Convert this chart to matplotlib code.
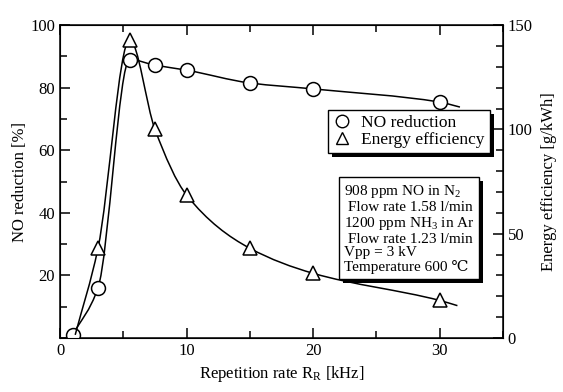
import numpy as np
import matplotlib
matplotlib.use('Agg')
import matplotlib.pyplot as plt
import matplotlib.patheffects as pe
from matplotlib.path import Path
from matplotlib.patches import PathPatch
from matplotlib.lines import Line2D
from matplotlib.ticker import MultipleLocator

plt.rcParams['font.family'] = ['Liberation Serif', 'DejaVu Serif']
plt.rcParams['mathtext.fontset'] = 'custom'
plt.rcParams['mathtext.rm'] = 'Liberation Serif'
plt.rcParams['mathtext.it'] = 'Liberation Serif:italic'

no_x = [1, 3, 5.5, 7.5, 10, 15, 20, 30]
no_y = [1, 16, 89, 87.2, 85.6, 81.5, 79.6, 75.4]
ee_x = [3, 5.5, 7.5, 10, 15, 20, 30]
ee_y = [43, 143, 100, 68.5, 43, 31, 18]

# where the drawn curves start / stop beyond the markers
no_curve_x = [1, 3, 5.5, 7.5, 10, 15, 20, 30, 31.6]
no_curve_y = [1, 16, 89, 87.2, 85.6, 81.5, 79.6, 75.4, 73.8]
ee_curve_x = [1.2, 3, 5.5, 7.5, 10, 15, 20, 30, 31.4]
ee_curve_y = [1.5, 43, 143, 100, 68.5, 43, 31, 18, 15.5]


def smooth_path(xs, ys):
    # monotone cubic (pchip style) drawn as bezier segments
    x = np.asarray(xs, float)
    y = np.asarray(ys, float)
    h = np.diff(x)
    d = np.diff(y) / h
    m = np.zeros_like(x)
    for i in range(1, len(x) - 1):
        if d[i-1] * d[i] > 0:
            w1 = 2*h[i] + h[i-1]
            w2 = h[i] + 2*h[i-1]
            m[i] = (w1 + w2) / (w1/d[i-1] + w2/d[i])
    m[0] = d[0]
    m[-1] = d[-1]
    verts = [(x[0], y[0])]
    codes = [Path.MOVETO]
    for i in range(len(x) - 1):
        verts += [(x[i] + h[i]/3, y[i] + m[i]*h[i]/3),
                  (x[i+1] - h[i]/3, y[i+1] - m[i+1]*h[i]/3),
                  (x[i+1], y[i+1])]
        codes += [Path.CURVE4] * 3
    return Path(verts, codes)


fig = plt.figure(figsize=(5.63, 3.92), dpi=100)
ax = fig.add_axes([0.1066, 0.1378, 0.7868, 0.7982])
ax2 = ax.twinx()

ax.set_xlim(0, 35)
ax.set_ylim(0, 100)
ax2.set_ylim(0, 150)

ax.add_patch(PathPatch(smooth_path(no_curve_x, no_curve_y), fill=False,
                       lw=1.1, color='black', zorder=2))
ax2.add_patch(PathPatch(smooth_path(ee_curve_x, ee_curve_y), fill=False,
                        lw=1.1, color='black', zorder=2))
ax.plot(no_x, no_y, 'o', ms=10, mfc='white', mec='black', mew=1.1, zorder=3)
ax2.plot(ee_x, ee_y, '^', ms=10, mfc='white', mec='black', mew=1.1, zorder=3)

ax.xaxis.set_major_locator(MultipleLocator(10))
ax.xaxis.set_minor_locator(MultipleLocator(5))
ax.yaxis.set_major_locator(MultipleLocator(20))
ax.yaxis.set_minor_locator(MultipleLocator(10))
ax2.yaxis.set_major_locator(MultipleLocator(50))
ax2.yaxis.set_minor_locator(MultipleLocator(10))

ax.tick_params(which='both', direction='in', top=True, right=False, labelsize=12, width=1.1)
ax.tick_params(which='major', length=7)
ax.tick_params(which='minor', length=5)
ax2.tick_params(which='both', direction='in', labelsize=12, width=1.1)
ax2.tick_params(which='major', length=7)
ax2.tick_params(which='minor', length=5)
ax.set_yticks([20, 40, 60, 80, 100])
for sp in ax.spines.values():
    sp.set_linewidth(1.1)

ax.set_xlabel('Repetition rate R$_\\mathrm{R}$ [kHz]', fontsize=12, labelpad=4)
ax.set_ylabel('NO reduction [%]', fontsize=12, labelpad=2)
ax2.set_ylabel('Energy efficiency [g/kWh]', fontsize=12, labelpad=6)

handles = [Line2D([], [], ls='none', marker='o', ms=9, mfc='white', mec='black'),
           Line2D([], [], ls='none', marker='^', ms=9, mfc='white', mec='black')]
leg = ax2.legend(handles, ['NO reduction', 'Energy efficiency'], loc='upper right',
                 bbox_to_anchor=(0.97, 0.73), borderaxespad=0, fontsize=12.5,
                 fancybox=False, framealpha=1, edgecolor='black',
                 handlelength=1, handletextpad=0.6, labelspacing=0.05,
                 borderpad=0.3)
leg.get_frame().set_linewidth(1.0)
leg.get_frame().set_path_effects([pe.withSimplePatchShadow(offset=(3, -3),
                                  shadow_rgbFace='black', alpha=1.0)])

info = ('908 ppm NO in N$_2$\n Flow rate 1.58 l/min\n1200 ppm NH$_3$ in Ar\n'
        ' Flow rate 1.23 l/min\nVpp = 3 kV\nTemperature 600 \u2103')
box = dict(boxstyle='square,pad=0.3', fc='white', ec='black', lw=1.0)
t = ax2.text(0.64, 0.495, info, transform=ax2.transAxes, fontsize=11, va='top',
             ha='left', linespacing=1.08, bbox=box, zorder=5)
t.get_bbox_patch().set_path_effects([pe.withSimplePatchShadow(offset=(3, -3),
                                     shadow_rgbFace='black', alpha=1.0)])

fig.savefig('out.png', dpi=100)
